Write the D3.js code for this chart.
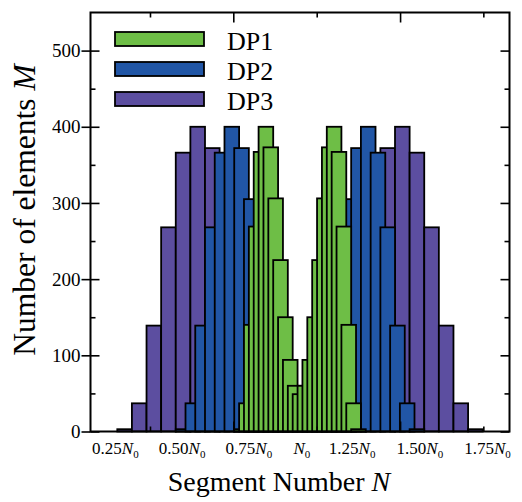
<!DOCTYPE html>
<html>
<head>
<meta charset="utf-8">
<script src="https://cdn.jsdelivr.net/npm/d3@7"></script>
<style>
  body { margin: 0; background: #fff; }
  svg { display: block; }
  svg text { font-family: "Liberation Serif", "Times New Roman", serif; fill: #000; }
</style>
</head>
<body>
<svg width="522" height="502"></svg>
<script>
// segment numbers (N0 = 36) for each design point
const dp1N = [24, 25, 26, 27, 28, 29, 30, 31, 32, 33, 34, 35, 36, 37, 38, 39, 40, 41, 42, 43, 44, 45, 46, 47, 48];
const dp2N = [12, 14, 16, 18, 20, 22, 24, 26, 28, 30, 32, 34, 36, 38, 40, 42, 44, 46, 48, 50, 52, 54, 56, 58, 60];
const dp3N = [0, 3, 6, 9, 12, 15, 18, 21, 24, 27, 30, 33, 36, 39, 42, 45, 48, 51, 54, 57, 60, 63, 66, 69, 72];

const dp1M = [3, 37, 140, 269, 367, 400, 373, 306, 225, 150, 94, 60, 49, 60, 94, 150, 225, 306, 373, 400, 367, 269, 140, 37, 3];
const dp2M = [3, 37, 139, 268, 366, 400, 372, 305, 225, 150, 94, 60, 49, 60, 94, 150, 225, 305, 372, 400, 366, 268, 139, 37, 3];
const dp3M = [3, 37, 139, 268, 366, 400, 372, 305, 225, 150, 94, 60, 49, 60, 94, 150, 225, 305, 372, 400, 366, 268, 139, 37, 3];

const seriesNames = ["DP1", "DP2", "DP3"];
const seriesColors = ["#6ebe46", "#2156a6", "#5c4ea0"];

const yMajor = [0, 100, 200, 300, 400, 500];
const yMinor = [50, 150, 250, 350, 450];
const xMajor = [22.31, 56.54];
const xMinor = [5.21, 39.43, 73.63];
const xLabelCoef = ["0.25", "0.50", "0.75", "", "1.25", "1.50", "1.75"];
const xLabelPos = [-1.9, 11.8, 25.5, 36.4, 46.7, 60.6, 74.5];

const svg = d3.select("svg");
const plotL = 90.5, plotR = 509.5, plotT = 12.5, plotB = 431.5;
const binWidth = 3;

const x = d3.scaleLinear().domain([-7, 79]).range([plotL, plotR]);
const y = d3.scaleLinear().domain([0, 550]).range([plotB, plotT]);

const series = [
  { name: "DP3", n: dp3N, m: dp3M, color: seriesColors[2] },
  { name: "DP2", n: dp2N, m: dp2M, color: seriesColors[1] },
  { name: "DP1", n: dp1N, m: dp1M, color: seriesColors[0] }
];

// bars, DP3 first so DP1 ends up on top
series.forEach(s => {
  svg.append("g")
    .selectAll("rect")
    .data(s.n.map((n, i) => [n, s.m[i]]))
    .enter()
    .append("rect")
    .attr("x", d => x(d[0] - binWidth / 2))
    .attr("y", d => y(d[1]))
    .attr("width", d => x(d[0] + binWidth / 2) - x(d[0] - binWidth / 2))
    .attr("height", d => y(0) - y(d[1]))
    .attr("fill", s.color)
    .attr("stroke", "#000")
    .attr("stroke-width", 1.8);
});

// ticks
function ticks(axis, tx, ty) {
  const g = svg.append("g").attr("transform", `translate(${tx},${ty})`).call(axis);
  g.attr("font-family", null);
  g.select(".domain").remove();
  g.selectAll(".tick line").attr("stroke", "#000").attr("stroke-width", 1.6);
  return g;
}
ticks(d3.axisBottom(x).tickValues(xMajor).tickSize(-10).tickFormat(""), 0, plotB);
ticks(d3.axisBottom(x).tickValues(xMinor).tickSize(-5).tickFormat(""), 0, plotB);
ticks(d3.axisTop(x).tickValues(xMajor).tickSize(-10).tickFormat(""), 0, plotT);
ticks(d3.axisTop(x).tickValues(xMinor).tickSize(-5).tickFormat(""), 0, plotT);
ticks(d3.axisLeft(y).tickValues(yMajor).tickSize(-9).tickFormat(""), plotL, 0);
ticks(d3.axisLeft(y).tickValues(yMinor).tickSize(-5).tickFormat(""), plotL, 0);
ticks(d3.axisRight(y).tickValues(yMajor).tickSize(-9).tickFormat(""), plotR, 0);
ticks(d3.axisRight(y).tickValues(yMinor).tickSize(-5).tickFormat(""), plotR, 0);

const yAx = ticks(d3.axisLeft(y).tickValues(yMajor).tickSize(9).tickPadding(1), plotL, 0);
yAx.selectAll("text")
  .style("font-family", '"Liberation Serif", "Times New Roman", serif')
  .attr("font-size", 19)
  .attr("fill", "#000");

// frame
svg.append("rect")
  .attr("x", plotL).attr("y", plotT)
  .attr("width", plotR - plotL).attr("height", plotB - plotT)
  .attr("fill", "none").attr("stroke", "#000").attr("stroke-width", 2);

// x labels
const xl = svg.append("g")
  .selectAll("text")
  .data(xLabelCoef)
  .enter()
  .append("text")
  .attr("x", (d, i) => x(xLabelPos[i]))
  .attr("y", 454)
  .attr("text-anchor", "middle")
  .attr("font-size", 17);
xl.append("tspan").text(d => d);
xl.append("tspan").attr("font-style", "italic").text("N");
xl.append("tspan").attr("font-size", 11).attr("dy", 4).text("0");

// axis titles
const xt = svg.append("text")
  .attr("x", 279).attr("y", 491)
  .attr("text-anchor", "middle")
  .attr("font-size", 28);
xt.append("tspan").text("Segment Number ");
xt.append("tspan").attr("font-style", "italic").text("N");

const yt = svg.append("text")
  .attr("transform", "translate(35,210) rotate(-90)")
  .attr("text-anchor", "middle")
  .attr("font-size", 31.5);
yt.append("tspan").text("Number of elements ");
yt.append("tspan").attr("font-style", "italic").text("M");

// legend
const leg = svg.append("g")
  .selectAll("g")
  .data(seriesNames)
  .enter()
  .append("g")
  .attr("transform", (d, i) => `translate(115,${32 + i * 30})`);
leg.append("rect")
  .attr("width", 89).attr("height", 14)
  .attr("fill", (d, i) => seriesColors[i])
  .attr("stroke", "#000").attr("stroke-width", 1.8);
leg.append("text")
  .attr("x", 112).attr("y", 18)
  .attr("font-size", 26)
  .text(d => d);
</script>
</body>
</html>
